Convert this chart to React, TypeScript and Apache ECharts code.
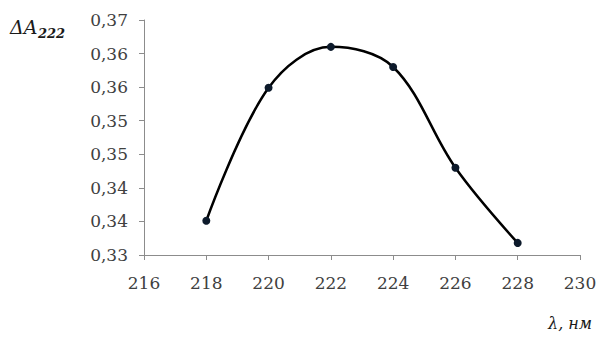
import React, { useEffect, useRef } from "react";
import * as echarts from "echarts";

const wavelengths = [218, 220, 222, 224, 226, 228];
const deltaA = [0.3351, 0.3549, 0.361, 0.358, 0.343, 0.3318];
const yTickValues = [0.33, 0.335, 0.34, 0.345, 0.35, 0.355, 0.36, 0.365];
const yTickLabels = ["0,33", "0,34", "0,34", "0,35", "0,35", "0,36", "0,36", "0,37"];

export default function App() {
  const ref = useRef<HTMLDivElement>(null);
  useEffect(() => {
    if (!ref.current) return;
    const chart = echarts.init(ref.current, undefined, { renderer: "svg" });
    const font = "DejaVu Serif";
    chart.setOption({
      animation: false,
      backgroundColor: "#ffffff",
      textStyle: { fontFamily: font },
      grid: { left: 144, right: 25, top: 20, bottom: 88, containLabel: false },
      xAxis: {
        type: "value",
        min: 216,
        max: 230,
        interval: 2,
        axisLine: { show: true, lineStyle: { color: "#8c8c8c", width: 1 } },
        axisTick: { show: true, inside: false, length: 5, lineStyle: { color: "#8c8c8c" } },
        splitLine: { show: false },
        axisLabel: { color: "#404040", fontFamily: font, fontSize: 17, margin: 19 },
      },
      yAxis: {
        type: "value",
        min: 0.33,
        max: 0.365,
        interval: 0.005,
        axisLine: { show: true, lineStyle: { color: "#8c8c8c", width: 1 } },
        axisTick: { show: true, inside: false, length: 5, lineStyle: { color: "#8c8c8c" } },
        splitLine: { show: false },
        axisLabel: {
          color: "#404040",
          fontFamily: font,
          fontSize: 17,
          margin: 16,
          formatter: (v: number) => {
            const i = yTickValues.findIndex((t) => Math.abs(t - v) < 1e-6);
            return i >= 0 ? yTickLabels[i] : "";
          },
        },
      },
      series: [
        {
          type: "line",
          data: wavelengths.map((w, i) => [w, deltaA[i]]),
          smooth: 0.35,
          symbol: "circle",
          symbolSize: 8,
          itemStyle: { color: "#0d1a2b" },
          lineStyle: { color: "#000000", width: 2.5 },
        },
      ],
      graphic: [
        {
          type: "text",
          left: 10,
          top: 17,
          style: { text: "ΔA", fontFamily: font, fontSize: 19, fontStyle: "italic", fill: "#1a1a1a" },
        },
        {
          type: "text",
          left: 38,
          top: 27,
          style: { text: "222", fontFamily: font, fontSize: 13, fontStyle: "italic", fontWeight: "bold", fill: "#1a1a1a" },
        },
        {
          type: "text",
          left: 548,
          top: 315,
          style: { text: "λ, нм", fontFamily: font, fontSize: 16, fontStyle: "italic", fill: "#1a1a1a" },
        },
      ],
    });
    return () => chart.dispose();
  }, []);
  return <div ref={ref} style={{ width: 605, height: 343, margin: -8 }} />;
}
